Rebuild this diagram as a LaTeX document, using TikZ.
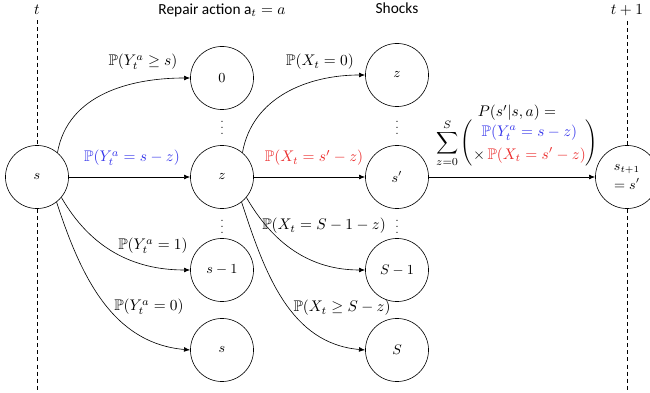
\documentclass[tikz,border=0pt]{standalone}
\usepackage{amsmath,amssymb}
\usepackage{fontspec}
\newfontfamily\calib{Carlito}
\usepackage{tikz}
\usetikzlibrary{positioning,arrows.meta}
\definecolor{pblue}{RGB}{55,55,235}
\definecolor{pred}{RGB}{235,45,45}

\begin{document}
\begin{tikzpicture}[x=0.65pt,y=-0.65pt,
  stnode/.style={draw,circle,minimum size=41pt,inner sep=0pt,font=\small},
  arr/.style={-{Latex[length=1.4mm,width=1.1mm]}},
  tdash/.style={dash pattern=on 2.6pt off 2pt}]
\useasboundingbox (0,0) rectangle (650,393);
% time marks and headers
\node (tt) at (37,10) {$t$};
\node (tn) at (627,10) {$t+1$};
\node[font=\calib] (hrep) at (222,10) {Repair action a$_t=a$};
\node[font=\calib] (hshock) at (397,8) {Shocks};
% states
\node[stnode] (s) at (37,177) {$s$};
\node[stnode] (r0) at (222,78) {$0$};
\node[stnode] (rz) at (222,177) {$z$};
\node[stnode] (rs1) at (222,270) {$s-1$};
\node[stnode] (rs) at (222,350) {$s$};
\node[stnode] (kz) at (397,75) {$z$};
\node[stnode] (ks) at (397,177) {$s'$};
\node[stnode] (kS1) at (397,270) {$S-1$};
\node[stnode] (kS) at (397,350) {$S$};
\node[stnode,align=center] (snext) at (627,177) {$s_{t+1}$\\[1pt]$=s'$};
% dots between states
\foreach \xx in {222,397} {
  \node[font=\scriptsize] at (\xx,123) {$\vdots$};
  \node[font=\scriptsize] at (\xx,222) {$\vdots$};
}
% dashed time lines
\coordinate (sbot) at (37,392);
\coordinate (nbot) at (627,392);
\draw[tdash] (tt.south) -- (s.north);
\draw[tdash] (s.south) -- (sbot);
\draw[tdash] (tn.south) -- (snext.north);
\draw[tdash] (snext.south) -- (nbot);
% repair transitions
\draw[arr] (s.50) to[out=80,in=180] (r0.west);
\draw[arr] (s) -- (rz);
\draw[arr] (s.-40) to[out=-60,in=180] (rs1.west);
\draw[arr] (s.-52) to[out=-72,in=175] (rs.west);
\node at (143,62) {$\mathbb{P}(Y_t^a\geq s)$};
\node[pblue] at (132,158) {$\mathbb{P}(Y_t^a=s-z)$};
\node at (153,246) {$\mathbb{P}(Y_t^a=1)$};
\node at (149,307) {$\mathbb{P}(Y_t^a=0)$};
% shock transitions
\draw[arr] (rz.50) to[out=80,in=180] (kz.west);
\draw[arr] (rz) -- (ks);
\draw[arr] (rz.-40) to[out=-60,in=180] (kS1.west);
\draw[arr] (rz.-52) to[out=-72,in=175] (kS.west);
\node at (320,62) {$\mathbb{P}(X_t=0)$};
\node[pred] at (314,158) {$\mathbb{P}(X_t=s'-z)$};
\node at (324,226) {$\mathbb{P}(X_t=S-1-z)$};
\node at (342,308) {$\mathbb{P}(X_t\geq S-z)$};
% total transition
\draw[arr] (ks) -- (snext);
\node[align=center] (pform) at (517,136) {$P(s'|s,a)=$\\[-2pt]
  $\displaystyle\sum_{z=0}^{S}\renewcommand{\arraystretch}{1.25}\begin{pmatrix}\color{pblue}\mathbb{P}(Y_t^a=s-z)\\
  \times\,\color{pred}\mathbb{P}(X_t=s'-z)\end{pmatrix}$};
\end{tikzpicture}
\end{document}
